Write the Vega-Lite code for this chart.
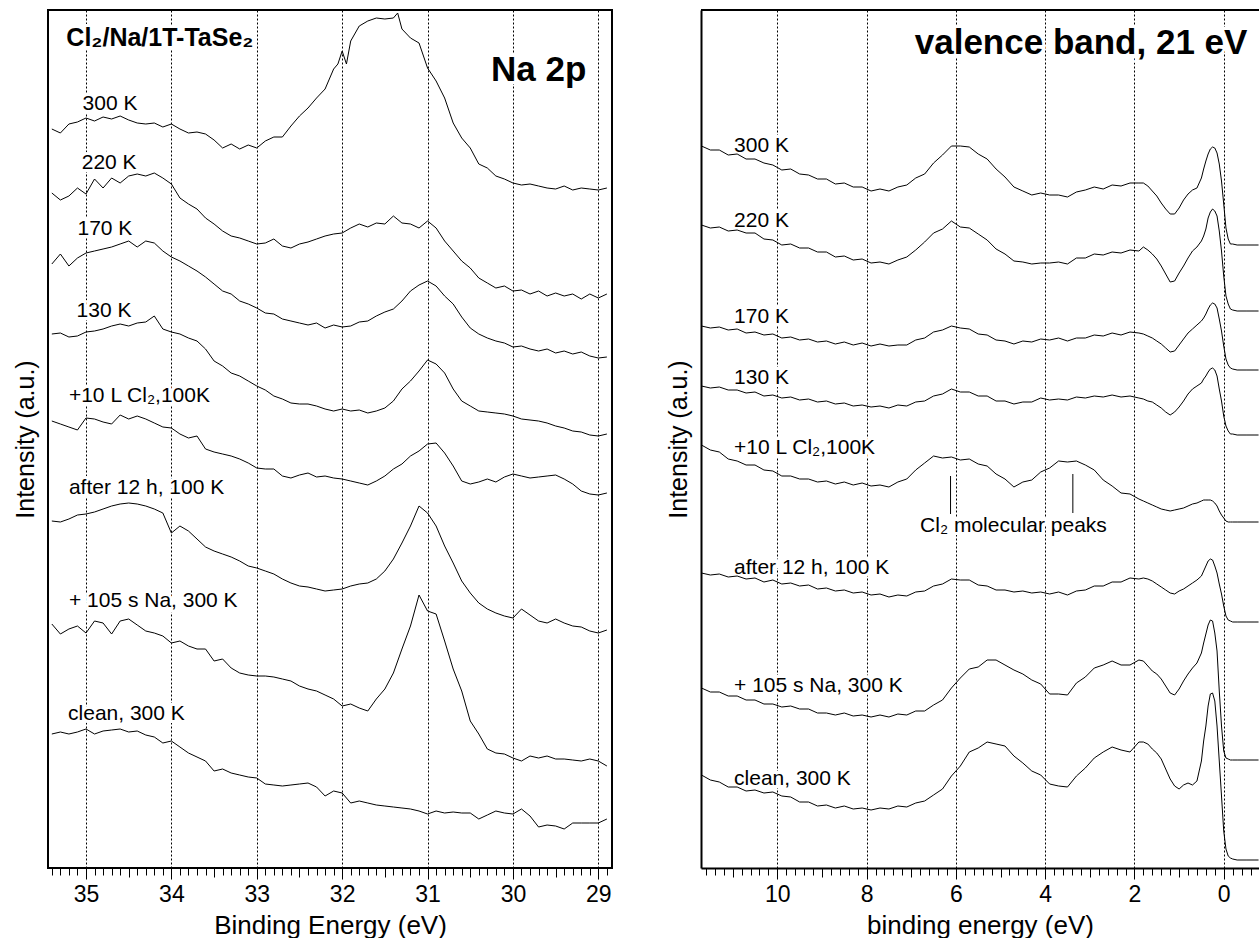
{
"$schema":"https://vega.github.io/schema/vega-lite/v6.json",
"background":"white",
"padding":{"left":12,"top":9,"right":0,"bottom":0},
"spacing":53,
"config":{"font":"Liberation Sans","view":{"stroke":"black","strokeWidth":2},
"axis":{"labelFont":"Liberation Sans","titleFont":"Liberation Sans","labelColor":"black","titleColor":"black","titleFontWeight":"normal","tickColor":"black","domainColor":"black"}},
"datasets":{
"naLab":[{"e":35.04,"i":764,"t":"300 K"},{"e":35.05,"i":705,"t":"220 K"},{"e":35.1,"i":639,"t":"170 K"},{"e":35.11,"i":557,"t":"130 K"},{"e":35.2,"i":472,"t":"+10 L Cl₂,100K"},{"e":35.2,"i":380,"t":"after 12 h, 100 K"},{"e":35.2,"i":267,"t":"+ 105 s Na, 300 K"},{"e":35.21,"i":154,"t":"clean, 300 K"}],
"vbLab":[{"e":10.97,"i":722,"t":"300 K"},{"e":10.97,"i":647,"t":"220 K"},{"e":10.97,"i":551,"t":"170 K"},{"e":10.97,"i":490,"t":"130 K"},{"e":10.97,"i":420,"t":"+10 L Cl₂,100K"},{"e":10.97,"i":300,"t":"after 12 h, 100 K"},{"e":10.97,"i":182,"t":"+ 105 s Na, 300 K"},{"e":10.97,"i":89,"t":"clean, 300 K"}],
"na":[
{"s":1,"e":35.4,"i":739},{"s":1,"e":35.3,"i":735},{"s":1,"e":35.2,"i":744},{"s":1,"e":35.1,"i":746},{"s":1,"e":35,"i":750},{"s":1,"e":34.9,"i":747},{"s":1,"e":34.8,"i":751},{"s":1,"e":34.7,"i":749},{"s":1,"e":34.6,"i":752},{"s":1,"e":34.5,"i":748},{"s":1,"e":34.4,"i":745},{"s":1,"e":34.3,"i":744},{"s":1,"e":34.2,"i":745},{"s":1,"e":34.1,"i":741},{"s":1,"e":34,"i":744},{"s":1,"e":33.9,"i":739},{"s":1,"e":33.8,"i":735},{"s":1,"e":33.7,"i":736},{"s":1,"e":33.6,"i":734},{"s":1,"e":33.5,"i":728},{"s":1,"e":33.4,"i":720},{"s":1,"e":33.3,"i":724},{"s":1,"e":33.2,"i":719},{"s":1,"e":33.1,"i":723},{"s":1,"e":33,"i":720},{"s":1,"e":32.9,"i":727},{"s":1,"e":32.8,"i":731},{"s":1,"e":32.7,"i":731},{"s":1,"e":32.6,"i":742},{"s":1,"e":32.5,"i":752},{"s":1,"e":32.4,"i":760},{"s":1,"e":32.3,"i":770},{"s":1,"e":32.2,"i":779},{"s":1,"e":32.1,"i":799},{"s":1,"e":32.05,"i":804},{"s":1,"e":32,"i":817},{"s":1,"e":31.95,"i":804},{"s":1,"e":31.9,"i":827},{"s":1,"e":31.8,"i":842},{"s":1,"e":31.7,"i":847},{"s":1,"e":31.6,"i":850},{"s":1,"e":31.5,"i":849},{"s":1,"e":31.4,"i":850},{"s":1,"e":31.35,"i":855},{"s":1,"e":31.3,"i":839},{"s":1,"e":31.2,"i":830},{"s":1,"e":31.1,"i":825},{"s":1,"e":31,"i":800},{"s":1,"e":30.9,"i":787},{"s":1,"e":30.8,"i":770},{"s":1,"e":30.7,"i":745},{"s":1,"e":30.6,"i":730},{"s":1,"e":30.5,"i":720},{"s":1,"e":30.4,"i":704},{"s":1,"e":30.3,"i":700},{"s":1,"e":30.2,"i":692},{"s":1,"e":30.1,"i":689},{"s":1,"e":30,"i":685},{"s":1,"e":29.9,"i":683},{"s":1,"e":29.8,"i":684},{"s":1,"e":29.7,"i":682},{"s":1,"e":29.6,"i":680},{"s":1,"e":29.5,"i":679},{"s":1,"e":29.4,"i":682},{"s":1,"e":29.3,"i":678},{"s":1,"e":29.2,"i":680},{"s":1,"e":29.1,"i":679},{"s":1,"e":29,"i":678},{"s":1,"e":28.9,"i":680},
{"s":2,"e":35.4,"i":675},{"s":2,"e":35.3,"i":668},{"s":2,"e":35.2,"i":672},{"s":2,"e":35.1,"i":680},{"s":2,"e":35,"i":674},{"s":2,"e":34.9,"i":689},{"s":2,"e":34.8,"i":680},{"s":2,"e":34.7,"i":690},{"s":2,"e":34.6,"i":685},{"s":2,"e":34.5,"i":692},{"s":2,"e":34.4,"i":694},{"s":2,"e":34.3,"i":692},{"s":2,"e":34.2,"i":695},{"s":2,"e":34.1,"i":690},{"s":2,"e":34,"i":684},{"s":2,"e":33.9,"i":670},{"s":2,"e":33.8,"i":664},{"s":2,"e":33.7,"i":659},{"s":2,"e":33.6,"i":650},{"s":2,"e":33.5,"i":644},{"s":2,"e":33.4,"i":637},{"s":2,"e":33.3,"i":632},{"s":2,"e":33.2,"i":630},{"s":2,"e":33.1,"i":627},{"s":2,"e":33,"i":624},{"s":2,"e":32.9,"i":625},{"s":2,"e":32.8,"i":629},{"s":2,"e":32.7,"i":622},{"s":2,"e":32.6,"i":620},{"s":2,"e":32.5,"i":624},{"s":2,"e":32.4,"i":626},{"s":2,"e":32.3,"i":629},{"s":2,"e":32.2,"i":632},{"s":2,"e":32.1,"i":634},{"s":2,"e":32,"i":635},{"s":2,"e":31.9,"i":640},{"s":2,"e":31.8,"i":644},{"s":2,"e":31.7,"i":641},{"s":2,"e":31.6,"i":645},{"s":2,"e":31.5,"i":644},{"s":2,"e":31.4,"i":652},{"s":2,"e":31.3,"i":645},{"s":2,"e":31.2,"i":644},{"s":2,"e":31.1,"i":640},{"s":2,"e":31,"i":647},{"s":2,"e":30.9,"i":640},{"s":2,"e":30.8,"i":627},{"s":2,"e":30.7,"i":617},{"s":2,"e":30.6,"i":607},{"s":2,"e":30.5,"i":600},{"s":2,"e":30.4,"i":590},{"s":2,"e":30.3,"i":585},{"s":2,"e":30.2,"i":580},{"s":2,"e":30.1,"i":582},{"s":2,"e":30,"i":577},{"s":2,"e":29.9,"i":578},{"s":2,"e":29.8,"i":574},{"s":2,"e":29.7,"i":577},{"s":2,"e":29.6,"i":572},{"s":2,"e":29.5,"i":575},{"s":2,"e":29.4,"i":572},{"s":2,"e":29.3,"i":574},{"s":2,"e":29.2,"i":569},{"s":2,"e":29.1,"i":574},{"s":2,"e":29,"i":570},{"s":2,"e":28.9,"i":574},
{"s":3,"e":35.4,"i":604},{"s":3,"e":35.3,"i":614},{"s":3,"e":35.2,"i":602},{"s":3,"e":35.1,"i":610},{"s":3,"e":35,"i":615},{"s":3,"e":34.9,"i":617},{"s":3,"e":34.8,"i":619},{"s":3,"e":34.7,"i":621},{"s":3,"e":34.6,"i":624},{"s":3,"e":34.5,"i":627},{"s":3,"e":34.4,"i":621},{"s":3,"e":34.3,"i":627},{"s":3,"e":34.2,"i":625},{"s":3,"e":34.1,"i":617},{"s":3,"e":34,"i":611},{"s":3,"e":33.9,"i":607},{"s":3,"e":33.8,"i":602},{"s":3,"e":33.7,"i":597},{"s":3,"e":33.6,"i":591},{"s":3,"e":33.5,"i":584},{"s":3,"e":33.4,"i":577},{"s":3,"e":33.3,"i":574},{"s":3,"e":33.2,"i":567},{"s":3,"e":33.1,"i":564},{"s":3,"e":33,"i":560},{"s":3,"e":32.9,"i":555},{"s":3,"e":32.8,"i":554},{"s":3,"e":32.7,"i":549},{"s":3,"e":32.6,"i":547},{"s":3,"e":32.5,"i":545},{"s":3,"e":32.4,"i":543},{"s":3,"e":32.3,"i":545},{"s":3,"e":32.2,"i":540},{"s":3,"e":32.1,"i":543},{"s":3,"e":32,"i":541},{"s":3,"e":31.9,"i":542},{"s":3,"e":31.8,"i":546},{"s":3,"e":31.7,"i":547},{"s":3,"e":31.6,"i":552},{"s":3,"e":31.5,"i":556},{"s":3,"e":31.4,"i":559},{"s":3,"e":31.3,"i":567},{"s":3,"e":31.2,"i":577},{"s":3,"e":31.1,"i":583},{"s":3,"e":31,"i":587},{"s":3,"e":30.9,"i":582},{"s":3,"e":30.8,"i":572},{"s":3,"e":30.7,"i":564},{"s":3,"e":30.6,"i":551},{"s":3,"e":30.5,"i":540},{"s":3,"e":30.4,"i":534},{"s":3,"e":30.3,"i":530},{"s":3,"e":30.2,"i":527},{"s":3,"e":30.1,"i":525},{"s":3,"e":30,"i":521},{"s":3,"e":29.9,"i":522},{"s":3,"e":29.8,"i":519},{"s":3,"e":29.7,"i":517},{"s":3,"e":29.6,"i":519},{"s":3,"e":29.5,"i":515},{"s":3,"e":29.4,"i":517},{"s":3,"e":29.3,"i":514},{"s":3,"e":29.2,"i":516},{"s":3,"e":29.1,"i":512},{"s":3,"e":29,"i":510},{"s":3,"e":28.9,"i":511},
{"s":4,"e":35.4,"i":534},{"s":4,"e":35.3,"i":535},{"s":4,"e":35.2,"i":531},{"s":4,"e":35.1,"i":532},{"s":4,"e":35,"i":536},{"s":4,"e":34.9,"i":537},{"s":4,"e":34.8,"i":539},{"s":4,"e":34.7,"i":542},{"s":4,"e":34.6,"i":544},{"s":4,"e":34.5,"i":542},{"s":4,"e":34.4,"i":545},{"s":4,"e":34.3,"i":546},{"s":4,"e":34.2,"i":552},{"s":4,"e":34.1,"i":539},{"s":4,"e":34,"i":536},{"s":4,"e":33.9,"i":534},{"s":4,"e":33.8,"i":530},{"s":4,"e":33.7,"i":527},{"s":4,"e":33.6,"i":519},{"s":4,"e":33.5,"i":507},{"s":4,"e":33.4,"i":502},{"s":4,"e":33.3,"i":495},{"s":4,"e":33.2,"i":492},{"s":4,"e":33.1,"i":487},{"s":4,"e":33,"i":482},{"s":4,"e":32.9,"i":478},{"s":4,"e":32.8,"i":472},{"s":4,"e":32.7,"i":469},{"s":4,"e":32.6,"i":465},{"s":4,"e":32.5,"i":464},{"s":4,"e":32.4,"i":464},{"s":4,"e":32.3,"i":462},{"s":4,"e":32.2,"i":459},{"s":4,"e":32.1,"i":457},{"s":4,"e":32,"i":459},{"s":4,"e":31.9,"i":457},{"s":4,"e":31.8,"i":458},{"s":4,"e":31.7,"i":455},{"s":4,"e":31.6,"i":457},{"s":4,"e":31.5,"i":460},{"s":4,"e":31.4,"i":467},{"s":4,"e":31.3,"i":479},{"s":4,"e":31.2,"i":487},{"s":4,"e":31.1,"i":497},{"s":4,"e":31,"i":508},{"s":4,"e":30.9,"i":504},{"s":4,"e":30.8,"i":495},{"s":4,"e":30.7,"i":479},{"s":4,"e":30.6,"i":467},{"s":4,"e":30.5,"i":462},{"s":4,"e":30.4,"i":457},{"s":4,"e":30.3,"i":456},{"s":4,"e":30.2,"i":455},{"s":4,"e":30.1,"i":454},{"s":4,"e":30,"i":452},{"s":4,"e":29.9,"i":449},{"s":4,"e":29.8,"i":448},{"s":4,"e":29.7,"i":447},{"s":4,"e":29.6,"i":445},{"s":4,"e":29.5,"i":442},{"s":4,"e":29.4,"i":440},{"s":4,"e":29.3,"i":437},{"s":4,"e":29.2,"i":436},{"s":4,"e":29.1,"i":433},{"s":4,"e":29,"i":432},{"s":4,"e":28.9,"i":434},
{"s":5,"e":35.4,"i":447},{"s":5,"e":35.3,"i":444},{"s":5,"e":35.2,"i":441},{"s":5,"e":35.1,"i":438},{"s":5,"e":35,"i":450},{"s":5,"e":34.9,"i":449},{"s":5,"e":34.8,"i":446},{"s":5,"e":34.7,"i":444},{"s":5,"e":34.6,"i":453},{"s":5,"e":34.5,"i":449},{"s":5,"e":34.4,"i":452},{"s":5,"e":34.3,"i":449},{"s":5,"e":34.2,"i":445},{"s":5,"e":34.1,"i":441},{"s":5,"e":34,"i":440},{"s":5,"e":33.9,"i":434},{"s":5,"e":33.8,"i":430},{"s":5,"e":33.7,"i":432},{"s":5,"e":33.6,"i":419},{"s":5,"e":33.5,"i":416},{"s":5,"e":33.4,"i":414},{"s":5,"e":33.3,"i":412},{"s":5,"e":33.2,"i":409},{"s":5,"e":33.1,"i":405},{"s":5,"e":33,"i":400},{"s":5,"e":32.9,"i":399},{"s":5,"e":32.8,"i":399},{"s":5,"e":32.7,"i":392},{"s":5,"e":32.6,"i":390},{"s":5,"e":32.5,"i":393},{"s":5,"e":32.4,"i":395},{"s":5,"e":32.3,"i":391},{"s":5,"e":32.2,"i":392},{"s":5,"e":32.1,"i":390},{"s":5,"e":32,"i":389},{"s":5,"e":31.9,"i":387},{"s":5,"e":31.8,"i":385},{"s":5,"e":31.7,"i":383},{"s":5,"e":31.6,"i":387},{"s":5,"e":31.5,"i":392},{"s":5,"e":31.4,"i":399},{"s":5,"e":31.3,"i":404},{"s":5,"e":31.2,"i":412},{"s":5,"e":31.1,"i":417},{"s":5,"e":31,"i":424},{"s":5,"e":30.9,"i":425},{"s":5,"e":30.8,"i":415},{"s":5,"e":30.7,"i":402},{"s":5,"e":30.6,"i":387},{"s":5,"e":30.5,"i":384},{"s":5,"e":30.4,"i":386},{"s":5,"e":30.3,"i":389},{"s":5,"e":30.2,"i":386},{"s":5,"e":30.1,"i":391},{"s":5,"e":30,"i":394},{"s":5,"e":29.9,"i":392},{"s":5,"e":29.8,"i":390},{"s":5,"e":29.7,"i":391},{"s":5,"e":29.6,"i":392},{"s":5,"e":29.5,"i":393},{"s":5,"e":29.4,"i":389},{"s":5,"e":29.3,"i":384},{"s":5,"e":29.2,"i":377},{"s":5,"e":29.1,"i":374},{"s":5,"e":29,"i":373},{"s":5,"e":28.9,"i":375},
{"s":6,"e":35.4,"i":347},{"s":6,"e":35.3,"i":346},{"s":6,"e":35.2,"i":349},{"s":6,"e":35.1,"i":353},{"s":6,"e":35,"i":354},{"s":6,"e":34.9,"i":356},{"s":6,"e":34.8,"i":359},{"s":6,"e":34.7,"i":362},{"s":6,"e":34.6,"i":364},{"s":6,"e":34.5,"i":365},{"s":6,"e":34.4,"i":364},{"s":6,"e":34.3,"i":362},{"s":6,"e":34.2,"i":359},{"s":6,"e":34.1,"i":355},{"s":6,"e":34,"i":335},{"s":6,"e":33.9,"i":342},{"s":6,"e":33.8,"i":337},{"s":6,"e":33.7,"i":329},{"s":6,"e":33.6,"i":321},{"s":6,"e":33.5,"i":317},{"s":6,"e":33.4,"i":314},{"s":6,"e":33.3,"i":311},{"s":6,"e":33.2,"i":307},{"s":6,"e":33.1,"i":302},{"s":6,"e":33,"i":300},{"s":6,"e":32.9,"i":297},{"s":6,"e":32.8,"i":294},{"s":6,"e":32.7,"i":289},{"s":6,"e":32.6,"i":285},{"s":6,"e":32.5,"i":282},{"s":6,"e":32.4,"i":281},{"s":6,"e":32.3,"i":279},{"s":6,"e":32.2,"i":277},{"s":6,"e":32.1,"i":278},{"s":6,"e":32,"i":279},{"s":6,"e":31.9,"i":282},{"s":6,"e":31.8,"i":284},{"s":6,"e":31.7,"i":285},{"s":6,"e":31.6,"i":289},{"s":6,"e":31.5,"i":297},{"s":6,"e":31.4,"i":309},{"s":6,"e":31.3,"i":325},{"s":6,"e":31.2,"i":342},{"s":6,"e":31.1,"i":362},{"s":6,"e":31,"i":355},{"s":6,"e":30.9,"i":342},{"s":6,"e":30.8,"i":322},{"s":6,"e":30.7,"i":305},{"s":6,"e":30.6,"i":287},{"s":6,"e":30.5,"i":275},{"s":6,"e":30.4,"i":265},{"s":6,"e":30.3,"i":259},{"s":6,"e":30.2,"i":255},{"s":6,"e":30.1,"i":252},{"s":6,"e":30,"i":250},{"s":6,"e":29.9,"i":259},{"s":6,"e":29.8,"i":253},{"s":6,"e":29.7,"i":247},{"s":6,"e":29.6,"i":245},{"s":6,"e":29.5,"i":249},{"s":6,"e":29.4,"i":245},{"s":6,"e":29.3,"i":242},{"s":6,"e":29.2,"i":241},{"s":6,"e":29.1,"i":237},{"s":6,"e":29,"i":235},{"s":6,"e":28.9,"i":238},
{"s":7,"e":35.4,"i":244},{"s":7,"e":35.3,"i":234},{"s":7,"e":35.2,"i":239},{"s":7,"e":35.1,"i":242},{"s":7,"e":35,"i":235},{"s":7,"e":34.9,"i":247},{"s":7,"e":34.8,"i":245},{"s":7,"e":34.7,"i":234},{"s":7,"e":34.6,"i":247},{"s":7,"e":34.5,"i":249},{"s":7,"e":34.4,"i":243},{"s":7,"e":34.3,"i":237},{"s":7,"e":34.2,"i":235},{"s":7,"e":34.1,"i":232},{"s":7,"e":34,"i":225},{"s":7,"e":33.9,"i":227},{"s":7,"e":33.8,"i":222},{"s":7,"e":33.7,"i":219},{"s":7,"e":33.6,"i":219},{"s":7,"e":33.5,"i":207},{"s":7,"e":33.4,"i":209},{"s":7,"e":33.3,"i":200},{"s":7,"e":33.2,"i":195},{"s":7,"e":33.1,"i":193},{"s":7,"e":33,"i":192},{"s":7,"e":32.9,"i":192},{"s":7,"e":32.8,"i":191},{"s":7,"e":32.7,"i":189},{"s":7,"e":32.6,"i":187},{"s":7,"e":32.5,"i":182},{"s":7,"e":32.4,"i":179},{"s":7,"e":32.3,"i":177},{"s":7,"e":32.2,"i":173},{"s":7,"e":32.1,"i":169},{"s":7,"e":32,"i":162},{"s":7,"e":31.9,"i":164},{"s":7,"e":31.8,"i":160},{"s":7,"e":31.7,"i":157},{"s":7,"e":31.6,"i":169},{"s":7,"e":31.5,"i":179},{"s":7,"e":31.4,"i":195},{"s":7,"e":31.3,"i":219},{"s":7,"e":31.2,"i":242},{"s":7,"e":31.1,"i":273},{"s":7,"e":31,"i":257},{"s":7,"e":30.9,"i":254},{"s":7,"e":30.8,"i":227},{"s":7,"e":30.7,"i":199},{"s":7,"e":30.6,"i":177},{"s":7,"e":30.5,"i":147},{"s":7,"e":30.4,"i":134},{"s":7,"e":30.3,"i":119},{"s":7,"e":30.2,"i":115},{"s":7,"e":30.1,"i":114},{"s":7,"e":30,"i":110},{"s":7,"e":29.9,"i":107},{"s":7,"e":29.8,"i":112},{"s":7,"e":29.7,"i":110},{"s":7,"e":29.6,"i":112},{"s":7,"e":29.5,"i":109},{"s":7,"e":29.4,"i":109},{"s":7,"e":29.3,"i":108},{"s":7,"e":29.2,"i":107},{"s":7,"e":29.1,"i":109},{"s":7,"e":29,"i":107},{"s":7,"e":28.9,"i":102},
{"s":8,"e":35.4,"i":134},{"s":8,"e":35.3,"i":136},{"s":8,"e":35.2,"i":134},{"s":8,"e":35.1,"i":136},{"s":8,"e":35,"i":139},{"s":8,"e":34.9,"i":134},{"s":8,"e":34.8,"i":137},{"s":8,"e":34.7,"i":138},{"s":8,"e":34.6,"i":139},{"s":8,"e":34.5,"i":136},{"s":8,"e":34.4,"i":137},{"s":8,"e":34.3,"i":133},{"s":8,"e":34.2,"i":131},{"s":8,"e":34.1,"i":125},{"s":8,"e":34,"i":127},{"s":8,"e":33.9,"i":121},{"s":8,"e":33.8,"i":115},{"s":8,"e":33.7,"i":111},{"s":8,"e":33.6,"i":107},{"s":8,"e":33.5,"i":97},{"s":8,"e":33.4,"i":99},{"s":8,"e":33.3,"i":95},{"s":8,"e":33.2,"i":93},{"s":8,"e":33.1,"i":91},{"s":8,"e":33,"i":90},{"s":8,"e":32.9,"i":84},{"s":8,"e":32.8,"i":83},{"s":8,"e":32.7,"i":82},{"s":8,"e":32.6,"i":83},{"s":8,"e":32.5,"i":84},{"s":8,"e":32.4,"i":85},{"s":8,"e":32.3,"i":81},{"s":8,"e":32.2,"i":72},{"s":8,"e":32.1,"i":77},{"s":8,"e":32,"i":75},{"s":8,"e":31.9,"i":65},{"s":8,"e":31.8,"i":67},{"s":8,"e":31.7,"i":65},{"s":8,"e":31.6,"i":63},{"s":8,"e":31.5,"i":62},{"s":8,"e":31.4,"i":61},{"s":8,"e":31.3,"i":60},{"s":8,"e":31.2,"i":59},{"s":8,"e":31.1,"i":57},{"s":8,"e":31,"i":54},{"s":8,"e":30.9,"i":57},{"s":8,"e":30.8,"i":55},{"s":8,"e":30.7,"i":56},{"s":8,"e":30.6,"i":55},{"s":8,"e":30.5,"i":55},{"s":8,"e":30.4,"i":49},{"s":8,"e":30.3,"i":53},{"s":8,"e":30.2,"i":57},{"s":8,"e":30.1,"i":55},{"s":8,"e":30,"i":54},{"s":8,"e":29.9,"i":59},{"s":8,"e":29.8,"i":52},{"s":8,"e":29.7,"i":41},{"s":8,"e":29.6,"i":43},{"s":8,"e":29.5,"i":42},{"s":8,"e":29.4,"i":39},{"s":8,"e":29.3,"i":45},{"s":8,"e":29.2,"i":45},{"s":8,"e":29.1,"i":45},{"s":8,"e":29,"i":45},{"s":8,"e":28.9,"i":49}
],
"vb":[
{"s":1,"e":11.7,"i":722},{"s":1,"e":11.5,"i":718},{"s":1,"e":11.3,"i":718},{"s":1,"e":11.1,"i":713},{"s":1,"e":10.9,"i":714},{"s":1,"e":10.7,"i":709},{"s":1,"e":10.5,"i":709},{"s":1,"e":10.3,"i":705},{"s":1,"e":10.1,"i":703},{"s":1,"e":9.9,"i":698},{"s":1,"e":9.7,"i":699},{"s":1,"e":9.5,"i":694},{"s":1,"e":9.3,"i":693},{"s":1,"e":9.1,"i":689},{"s":1,"e":8.9,"i":689},{"s":1,"e":8.7,"i":684},{"s":1,"e":8.5,"i":685},{"s":1,"e":8.3,"i":681},{"s":1,"e":8.1,"i":681},{"s":1,"e":7.9,"i":677},{"s":1,"e":7.7,"i":679},{"s":1,"e":7.5,"i":677},{"s":1,"e":7.3,"i":681},{"s":1,"e":7.1,"i":683},{"s":1,"e":6.9,"i":690},{"s":1,"e":6.7,"i":694},{"s":1,"e":6.5,"i":705},{"s":1,"e":6.3,"i":713},{"s":1,"e":6.1,"i":722},{"s":1,"e":5.9,"i":722},{"s":1,"e":5.7,"i":721},{"s":1,"e":5.5,"i":714},{"s":1,"e":5.3,"i":709},{"s":1,"e":5.1,"i":699},{"s":1,"e":4.9,"i":691},{"s":1,"e":4.7,"i":681},{"s":1,"e":4.5,"i":677},{"s":1,"e":4.3,"i":673},{"s":1,"e":4.1,"i":675},{"s":1,"e":3.9,"i":673},{"s":1,"e":3.7,"i":673},{"s":1,"e":3.5,"i":671},{"s":1,"e":3.3,"i":676},{"s":1,"e":3.1,"i":678},{"s":1,"e":2.9,"i":681},{"s":1,"e":2.7,"i":679},{"s":1,"e":2.5,"i":683},{"s":1,"e":2.3,"i":682},{"s":1,"e":2.1,"i":685},{"s":1,"e":1.9,"i":685},{"s":1,"e":1.8,"i":685},{"s":1,"e":1.7,"i":682},{"s":1,"e":1.6,"i":677},{"s":1,"e":1.5,"i":672},{"s":1,"e":1.4,"i":665},{"s":1,"e":1.3,"i":659},{"s":1,"e":1.2,"i":654},{"s":1,"e":1.1,"i":654},{"s":1,"e":1,"i":660},{"s":1,"e":0.9,"i":668},{"s":1,"e":0.8,"i":674},{"s":1,"e":0.7,"i":678},{"s":1,"e":0.6,"i":680},{"s":1,"e":0.5,"i":690},{"s":1,"e":0.45,"i":699},{"s":1,"e":0.4,"i":707},{"s":1,"e":0.35,"i":714},{"s":1,"e":0.3,"i":719},{"s":1,"e":0.25,"i":721},{"s":1,"e":0.2,"i":720},{"s":1,"e":0.15,"i":715},{"s":1,"e":0.1,"i":704},{"s":1,"e":0.05,"i":687},{"s":1,"e":0,"i":664},{"s":1,"e":-0.05,"i":640},{"s":1,"e":-0.1,"i":629},{"s":1,"e":-0.15,"i":624},{"s":1,"e":-0.2,"i":624},{"s":1,"e":-0.3,"i":623},{"s":1,"e":-0.5,"i":623},{"s":1,"e":-0.7,"i":623},{"s":1,"e":-0.78,"i":623},
{"s":2,"e":11.7,"i":643},{"s":2,"e":11.5,"i":640},{"s":2,"e":11.3,"i":641},{"s":2,"e":11.1,"i":637},{"s":2,"e":10.9,"i":638},{"s":2,"e":10.7,"i":635},{"s":2,"e":10.5,"i":635},{"s":2,"e":10.3,"i":629},{"s":2,"e":10.1,"i":628},{"s":2,"e":9.9,"i":623},{"s":2,"e":9.7,"i":624},{"s":2,"e":9.5,"i":620},{"s":2,"e":9.3,"i":620},{"s":2,"e":9.1,"i":616},{"s":2,"e":8.9,"i":616},{"s":2,"e":8.7,"i":611},{"s":2,"e":8.5,"i":612},{"s":2,"e":8.3,"i":608},{"s":2,"e":8.1,"i":609},{"s":2,"e":7.9,"i":605},{"s":2,"e":7.7,"i":606},{"s":2,"e":7.5,"i":604},{"s":2,"e":7.3,"i":608},{"s":2,"e":7.1,"i":611},{"s":2,"e":6.9,"i":618},{"s":2,"e":6.7,"i":626},{"s":2,"e":6.5,"i":635},{"s":2,"e":6.3,"i":639},{"s":2,"e":6.1,"i":647},{"s":2,"e":5.9,"i":641},{"s":2,"e":5.7,"i":640},{"s":2,"e":5.5,"i":634},{"s":2,"e":5.3,"i":628},{"s":2,"e":5.1,"i":619},{"s":2,"e":4.9,"i":614},{"s":2,"e":4.7,"i":607},{"s":2,"e":4.5,"i":606},{"s":2,"e":4.3,"i":604},{"s":2,"e":4.1,"i":605},{"s":2,"e":3.9,"i":605},{"s":2,"e":3.7,"i":606},{"s":2,"e":3.5,"i":604},{"s":2,"e":3.3,"i":610},{"s":2,"e":3.1,"i":610},{"s":2,"e":2.9,"i":614},{"s":2,"e":2.7,"i":613},{"s":2,"e":2.5,"i":616},{"s":2,"e":2.3,"i":615},{"s":2,"e":2.1,"i":618},{"s":2,"e":1.9,"i":617},{"s":2,"e":1.8,"i":621},{"s":2,"e":1.7,"i":618},{"s":2,"e":1.6,"i":614},{"s":2,"e":1.5,"i":609},{"s":2,"e":1.4,"i":602},{"s":2,"e":1.3,"i":594},{"s":2,"e":1.2,"i":586},{"s":2,"e":1.1,"i":587},{"s":2,"e":1,"i":595},{"s":2,"e":0.9,"i":602},{"s":2,"e":0.8,"i":610},{"s":2,"e":0.7,"i":617},{"s":2,"e":0.6,"i":621},{"s":2,"e":0.5,"i":627},{"s":2,"e":0.45,"i":632},{"s":2,"e":0.4,"i":639},{"s":2,"e":0.35,"i":650},{"s":2,"e":0.3,"i":656},{"s":2,"e":0.25,"i":659},{"s":2,"e":0.2,"i":657},{"s":2,"e":0.15,"i":652},{"s":2,"e":0.1,"i":637},{"s":2,"e":0.05,"i":617},{"s":2,"e":0,"i":592},{"s":2,"e":-0.05,"i":572},{"s":2,"e":-0.1,"i":564},{"s":2,"e":-0.15,"i":559},{"s":2,"e":-0.2,"i":558},{"s":2,"e":-0.3,"i":557},{"s":2,"e":-0.5,"i":557},{"s":2,"e":-0.7,"i":557},{"s":2,"e":-0.78,"i":557},
{"s":3,"e":11.7,"i":542},{"s":3,"e":11.5,"i":540},{"s":3,"e":11.3,"i":541},{"s":3,"e":11.1,"i":538},{"s":3,"e":10.9,"i":539},{"s":3,"e":10.7,"i":535},{"s":3,"e":10.5,"i":536},{"s":3,"e":10.3,"i":533},{"s":3,"e":10.1,"i":534},{"s":3,"e":9.9,"i":530},{"s":3,"e":9.7,"i":531},{"s":3,"e":9.5,"i":528},{"s":3,"e":9.3,"i":529},{"s":3,"e":9.1,"i":526},{"s":3,"e":8.9,"i":527},{"s":3,"e":8.7,"i":524},{"s":3,"e":8.5,"i":526},{"s":3,"e":8.3,"i":523},{"s":3,"e":8.1,"i":525},{"s":3,"e":7.9,"i":522},{"s":3,"e":7.7,"i":524},{"s":3,"e":7.5,"i":522},{"s":3,"e":7.3,"i":523},{"s":3,"e":7.1,"i":523},{"s":3,"e":6.9,"i":528},{"s":3,"e":6.7,"i":530},{"s":3,"e":6.5,"i":536},{"s":3,"e":6.3,"i":538},{"s":3,"e":6.1,"i":542},{"s":3,"e":5.9,"i":540},{"s":3,"e":5.7,"i":539},{"s":3,"e":5.5,"i":534},{"s":3,"e":5.3,"i":533},{"s":3,"e":5.1,"i":528},{"s":3,"e":4.9,"i":527},{"s":3,"e":4.7,"i":524},{"s":3,"e":4.5,"i":527},{"s":3,"e":4.3,"i":526},{"s":3,"e":4.1,"i":529},{"s":3,"e":3.9,"i":528},{"s":3,"e":3.7,"i":530},{"s":3,"e":3.5,"i":527},{"s":3,"e":3.3,"i":530},{"s":3,"e":3.1,"i":530},{"s":3,"e":2.9,"i":533},{"s":3,"e":2.7,"i":532},{"s":3,"e":2.5,"i":535},{"s":3,"e":2.3,"i":533},{"s":3,"e":2.1,"i":536},{"s":3,"e":1.9,"i":535},{"s":3,"e":1.8,"i":534},{"s":3,"e":1.7,"i":532},{"s":3,"e":1.6,"i":530},{"s":3,"e":1.5,"i":527},{"s":3,"e":1.4,"i":524},{"s":3,"e":1.3,"i":520},{"s":3,"e":1.2,"i":516},{"s":3,"e":1.1,"i":517},{"s":3,"e":1,"i":523},{"s":3,"e":0.9,"i":529},{"s":3,"e":0.8,"i":535},{"s":3,"e":0.7,"i":539},{"s":3,"e":0.6,"i":543},{"s":3,"e":0.5,"i":547},{"s":3,"e":0.45,"i":550},{"s":3,"e":0.4,"i":554},{"s":3,"e":0.35,"i":559},{"s":3,"e":0.3,"i":563},{"s":3,"e":0.25,"i":565},{"s":3,"e":0.2,"i":564},{"s":3,"e":0.15,"i":560},{"s":3,"e":0.1,"i":549},{"s":3,"e":0.05,"i":537},{"s":3,"e":0,"i":522},{"s":3,"e":-0.05,"i":509},{"s":3,"e":-0.1,"i":503},{"s":3,"e":-0.15,"i":500},{"s":3,"e":-0.2,"i":499},{"s":3,"e":-0.3,"i":498},{"s":3,"e":-0.5,"i":498},{"s":3,"e":-0.7,"i":498},{"s":3,"e":-0.78,"i":498},
{"s":4,"e":11.7,"i":482},{"s":4,"e":11.5,"i":480},{"s":4,"e":11.3,"i":481},{"s":4,"e":11.1,"i":478},{"s":4,"e":10.9,"i":478},{"s":4,"e":10.7,"i":475},{"s":4,"e":10.5,"i":476},{"s":4,"e":10.3,"i":472},{"s":4,"e":10.1,"i":473},{"s":4,"e":9.9,"i":470},{"s":4,"e":9.7,"i":471},{"s":4,"e":9.5,"i":468},{"s":4,"e":9.3,"i":469},{"s":4,"e":9.1,"i":466},{"s":4,"e":8.9,"i":467},{"s":4,"e":8.7,"i":464},{"s":4,"e":8.5,"i":465},{"s":4,"e":8.3,"i":462},{"s":4,"e":8.1,"i":463},{"s":4,"e":7.9,"i":461},{"s":4,"e":7.7,"i":462},{"s":4,"e":7.5,"i":460},{"s":4,"e":7.3,"i":463},{"s":4,"e":7.1,"i":462},{"s":4,"e":6.9,"i":466},{"s":4,"e":6.7,"i":467},{"s":4,"e":6.5,"i":472},{"s":4,"e":6.3,"i":474},{"s":4,"e":6.1,"i":479},{"s":4,"e":5.9,"i":476},{"s":4,"e":5.7,"i":476},{"s":4,"e":5.5,"i":472},{"s":4,"e":5.3,"i":472},{"s":4,"e":5.1,"i":467},{"s":4,"e":4.9,"i":467},{"s":4,"e":4.7,"i":464},{"s":4,"e":4.5,"i":466},{"s":4,"e":4.3,"i":466},{"s":4,"e":4.1,"i":470},{"s":4,"e":3.9,"i":468},{"s":4,"e":3.7,"i":469},{"s":4,"e":3.5,"i":468},{"s":4,"e":3.3,"i":471},{"s":4,"e":3.1,"i":470},{"s":4,"e":2.9,"i":472},{"s":4,"e":2.7,"i":471},{"s":4,"e":2.5,"i":473},{"s":4,"e":2.3,"i":471},{"s":4,"e":2.1,"i":472},{"s":4,"e":1.9,"i":470},{"s":4,"e":1.8,"i":469},{"s":4,"e":1.7,"i":467},{"s":4,"e":1.6,"i":466},{"s":4,"e":1.5,"i":463},{"s":4,"e":1.4,"i":460},{"s":4,"e":1.3,"i":456},{"s":4,"e":1.2,"i":453},{"s":4,"e":1.1,"i":456},{"s":4,"e":1,"i":461},{"s":4,"e":0.9,"i":467},{"s":4,"e":0.8,"i":474},{"s":4,"e":0.7,"i":479},{"s":4,"e":0.6,"i":482},{"s":4,"e":0.5,"i":485},{"s":4,"e":0.45,"i":489},{"s":4,"e":0.4,"i":492},{"s":4,"e":0.35,"i":496},{"s":4,"e":0.3,"i":499},{"s":4,"e":0.25,"i":500},{"s":4,"e":0.2,"i":498},{"s":4,"e":0.15,"i":492},{"s":4,"e":0.1,"i":479},{"s":4,"e":0.05,"i":467},{"s":4,"e":0,"i":452},{"s":4,"e":-0.05,"i":442},{"s":4,"e":-0.1,"i":437},{"s":4,"e":-0.15,"i":434},{"s":4,"e":-0.2,"i":434},{"s":4,"e":-0.3,"i":433},{"s":4,"e":-0.5,"i":433},{"s":4,"e":-0.7,"i":433},{"s":4,"e":-0.78,"i":433},
{"s":5,"e":11.7,"i":423},{"s":5,"e":11.5,"i":418},{"s":5,"e":11.3,"i":416},{"s":5,"e":11.1,"i":409},{"s":5,"e":10.9,"i":407},{"s":5,"e":10.7,"i":403},{"s":5,"e":10.5,"i":403},{"s":5,"e":10.3,"i":398},{"s":5,"e":10.1,"i":397},{"s":5,"e":9.9,"i":392},{"s":5,"e":9.7,"i":392},{"s":5,"e":9.5,"i":389},{"s":5,"e":9.3,"i":389},{"s":5,"e":9.1,"i":386},{"s":5,"e":8.9,"i":387},{"s":5,"e":8.7,"i":384},{"s":5,"e":8.5,"i":386},{"s":5,"e":8.3,"i":383},{"s":5,"e":8.1,"i":385},{"s":5,"e":7.9,"i":382},{"s":5,"e":7.7,"i":383},{"s":5,"e":7.5,"i":381},{"s":5,"e":7.3,"i":386},{"s":5,"e":7.1,"i":389},{"s":5,"e":6.9,"i":398},{"s":5,"e":6.7,"i":405},{"s":5,"e":6.5,"i":412},{"s":5,"e":6.3,"i":410},{"s":5,"e":6.1,"i":411},{"s":5,"e":5.9,"i":408},{"s":5,"e":5.7,"i":409},{"s":5,"e":5.5,"i":404},{"s":5,"e":5.3,"i":402},{"s":5,"e":5.1,"i":394},{"s":5,"e":4.9,"i":389},{"s":5,"e":4.7,"i":381},{"s":5,"e":4.5,"i":386},{"s":5,"e":4.3,"i":388},{"s":5,"e":4.1,"i":396},{"s":5,"e":3.9,"i":400},{"s":5,"e":3.7,"i":407},{"s":5,"e":3.5,"i":406},{"s":5,"e":3.3,"i":407},{"s":5,"e":3.1,"i":403},{"s":5,"e":2.9,"i":398},{"s":5,"e":2.7,"i":388},{"s":5,"e":2.5,"i":382},{"s":5,"e":2.3,"i":375},{"s":5,"e":2.1,"i":374},{"s":5,"e":1.9,"i":369},{"s":5,"e":1.8,"i":367},{"s":5,"e":1.7,"i":365},{"s":5,"e":1.6,"i":363},{"s":5,"e":1.5,"i":361},{"s":5,"e":1.4,"i":359},{"s":5,"e":1.3,"i":358},{"s":5,"e":1.2,"i":357},{"s":5,"e":1.1,"i":358},{"s":5,"e":1,"i":359},{"s":5,"e":0.9,"i":360},{"s":5,"e":0.8,"i":362},{"s":5,"e":0.7,"i":364},{"s":5,"e":0.6,"i":365},{"s":5,"e":0.5,"i":367},{"s":5,"e":0.45,"i":368},{"s":5,"e":0.4,"i":368},{"s":5,"e":0.35,"i":368},{"s":5,"e":0.3,"i":368},{"s":5,"e":0.25,"i":367},{"s":5,"e":0.2,"i":365},{"s":5,"e":0.15,"i":362},{"s":5,"e":0.1,"i":357},{"s":5,"e":0.05,"i":353},{"s":5,"e":0,"i":350},{"s":5,"e":-0.05,"i":347},{"s":5,"e":-0.1,"i":346},{"s":5,"e":-0.15,"i":346},{"s":5,"e":-0.2,"i":346},{"s":5,"e":-0.3,"i":346},{"s":5,"e":-0.5,"i":346},{"s":5,"e":-0.7,"i":346},{"s":5,"e":-0.78,"i":346},
{"s":6,"e":11.7,"i":295},{"s":6,"e":11.5,"i":293},{"s":6,"e":11.3,"i":294},{"s":6,"e":11.1,"i":291},{"s":6,"e":10.9,"i":292},{"s":6,"e":10.7,"i":289},{"s":6,"e":10.5,"i":290},{"s":6,"e":10.3,"i":286},{"s":6,"e":10.1,"i":288},{"s":6,"e":9.9,"i":284},{"s":6,"e":9.7,"i":285},{"s":6,"e":9.5,"i":282},{"s":6,"e":9.3,"i":283},{"s":6,"e":9.1,"i":279},{"s":6,"e":8.9,"i":280},{"s":6,"e":8.7,"i":277},{"s":6,"e":8.5,"i":278},{"s":6,"e":8.3,"i":275},{"s":6,"e":8.1,"i":276},{"s":6,"e":7.9,"i":273},{"s":6,"e":7.7,"i":274},{"s":6,"e":7.5,"i":271},{"s":6,"e":7.3,"i":273},{"s":6,"e":7.1,"i":272},{"s":6,"e":6.9,"i":276},{"s":6,"e":6.7,"i":277},{"s":6,"e":6.5,"i":282},{"s":6,"e":6.3,"i":284},{"s":6,"e":6.1,"i":289},{"s":6,"e":5.9,"i":288},{"s":6,"e":5.7,"i":288},{"s":6,"e":5.5,"i":283},{"s":6,"e":5.3,"i":282},{"s":6,"e":5.1,"i":278},{"s":6,"e":4.9,"i":278},{"s":6,"e":4.7,"i":276},{"s":6,"e":4.5,"i":277},{"s":6,"e":4.3,"i":275},{"s":6,"e":4.1,"i":276},{"s":6,"e":3.9,"i":274},{"s":6,"e":3.7,"i":276},{"s":6,"e":3.5,"i":273},{"s":6,"e":3.3,"i":277},{"s":6,"e":3.1,"i":278},{"s":6,"e":2.9,"i":282},{"s":6,"e":2.7,"i":282},{"s":6,"e":2.5,"i":286},{"s":6,"e":2.3,"i":286},{"s":6,"e":2.1,"i":290},{"s":6,"e":1.9,"i":289},{"s":6,"e":1.8,"i":290},{"s":6,"e":1.7,"i":289},{"s":6,"e":1.6,"i":287},{"s":6,"e":1.5,"i":284},{"s":6,"e":1.4,"i":281},{"s":6,"e":1.3,"i":278},{"s":6,"e":1.2,"i":275},{"s":6,"e":1.1,"i":274},{"s":6,"e":1,"i":277},{"s":6,"e":0.9,"i":279},{"s":6,"e":0.8,"i":282},{"s":6,"e":0.7,"i":285},{"s":6,"e":0.6,"i":288},{"s":6,"e":0.5,"i":292},{"s":6,"e":0.45,"i":297},{"s":6,"e":0.4,"i":302},{"s":6,"e":0.35,"i":307},{"s":6,"e":0.3,"i":309},{"s":6,"e":0.25,"i":308},{"s":6,"e":0.2,"i":302},{"s":6,"e":0.15,"i":295},{"s":6,"e":0.1,"i":284},{"s":6,"e":0.05,"i":274},{"s":6,"e":0,"i":262},{"s":6,"e":-0.05,"i":252},{"s":6,"e":-0.1,"i":248},{"s":6,"e":-0.15,"i":247},{"s":6,"e":-0.2,"i":246},{"s":6,"e":-0.3,"i":246},{"s":6,"e":-0.5,"i":246},{"s":6,"e":-0.7,"i":246},{"s":6,"e":-0.78,"i":246},
{"s":7,"e":11.7,"i":180},{"s":7,"e":11.5,"i":176},{"s":7,"e":11.3,"i":176},{"s":7,"e":11.1,"i":172},{"s":7,"e":10.9,"i":172},{"s":7,"e":10.7,"i":168},{"s":7,"e":10.5,"i":168},{"s":7,"e":10.3,"i":164},{"s":7,"e":10.1,"i":164},{"s":7,"e":9.9,"i":161},{"s":7,"e":9.7,"i":162},{"s":7,"e":9.5,"i":159},{"s":7,"e":9.3,"i":159},{"s":7,"e":9.1,"i":155},{"s":7,"e":8.9,"i":155},{"s":7,"e":8.7,"i":153},{"s":7,"e":8.5,"i":155},{"s":7,"e":8.3,"i":152},{"s":7,"e":8.1,"i":153},{"s":7,"e":7.9,"i":151},{"s":7,"e":7.7,"i":153},{"s":7,"e":7.5,"i":151},{"s":7,"e":7.3,"i":154},{"s":7,"e":7.1,"i":153},{"s":7,"e":6.9,"i":157},{"s":7,"e":6.7,"i":157},{"s":7,"e":6.5,"i":163},{"s":7,"e":6.3,"i":168},{"s":7,"e":6.1,"i":180},{"s":7,"e":5.9,"i":190},{"s":7,"e":5.7,"i":199},{"s":7,"e":5.5,"i":201},{"s":7,"e":5.3,"i":208},{"s":7,"e":5.1,"i":208},{"s":7,"e":4.9,"i":203},{"s":7,"e":4.7,"i":198},{"s":7,"e":4.5,"i":194},{"s":7,"e":4.3,"i":188},{"s":7,"e":4.1,"i":184},{"s":7,"e":3.9,"i":174},{"s":7,"e":3.7,"i":174},{"s":7,"e":3.5,"i":173},{"s":7,"e":3.3,"i":185},{"s":7,"e":3.1,"i":191},{"s":7,"e":2.9,"i":200},{"s":7,"e":2.7,"i":203},{"s":7,"e":2.5,"i":207},{"s":7,"e":2.3,"i":203},{"s":7,"e":2.1,"i":203},{"s":7,"e":1.9,"i":208},{"s":7,"e":1.8,"i":207},{"s":7,"e":1.7,"i":202},{"s":7,"e":1.6,"i":197},{"s":7,"e":1.5,"i":194},{"s":7,"e":1.4,"i":189},{"s":7,"e":1.3,"i":182},{"s":7,"e":1.2,"i":175},{"s":7,"e":1.1,"i":173},{"s":7,"e":1,"i":179},{"s":7,"e":0.9,"i":187},{"s":7,"e":0.8,"i":194},{"s":7,"e":0.7,"i":200},{"s":7,"e":0.6,"i":205},{"s":7,"e":0.5,"i":215},{"s":7,"e":0.45,"i":225},{"s":7,"e":0.4,"i":234},{"s":7,"e":0.35,"i":243},{"s":7,"e":0.3,"i":248},{"s":7,"e":0.25,"i":247},{"s":7,"e":0.2,"i":235},{"s":7,"e":0.15,"i":217},{"s":7,"e":0.1,"i":177},{"s":7,"e":0.05,"i":142},{"s":7,"e":0,"i":117},{"s":7,"e":-0.05,"i":110},{"s":7,"e":-0.1,"i":109},{"s":7,"e":-0.15,"i":108},{"s":7,"e":-0.2,"i":108},{"s":7,"e":-0.3,"i":108},{"s":7,"e":-0.5,"i":108},{"s":7,"e":-0.7,"i":108},{"s":7,"e":-0.78,"i":108},
{"s":8,"e":11.7,"i":93},{"s":8,"e":11.5,"i":88},{"s":8,"e":11.3,"i":86},{"s":8,"e":11.1,"i":81},{"s":8,"e":10.9,"i":81},{"s":8,"e":10.7,"i":77},{"s":8,"e":10.5,"i":78},{"s":8,"e":10.3,"i":75},{"s":8,"e":10.1,"i":76},{"s":8,"e":9.9,"i":72},{"s":8,"e":9.7,"i":71},{"s":8,"e":9.5,"i":66},{"s":8,"e":9.3,"i":66},{"s":8,"e":9.1,"i":62},{"s":8,"e":8.9,"i":63},{"s":8,"e":8.7,"i":60},{"s":8,"e":8.5,"i":62},{"s":8,"e":8.3,"i":59},{"s":8,"e":8.1,"i":60},{"s":8,"e":7.9,"i":58},{"s":8,"e":7.7,"i":60},{"s":8,"e":7.5,"i":59},{"s":8,"e":7.3,"i":62},{"s":8,"e":7.1,"i":61},{"s":8,"e":6.9,"i":65},{"s":8,"e":6.7,"i":67},{"s":8,"e":6.5,"i":73},{"s":8,"e":6.3,"i":79},{"s":8,"e":6.1,"i":92},{"s":8,"e":5.9,"i":102},{"s":8,"e":5.7,"i":116},{"s":8,"e":5.5,"i":120},{"s":8,"e":5.3,"i":126},{"s":8,"e":5.1,"i":124},{"s":8,"e":4.9,"i":122},{"s":8,"e":4.7,"i":112},{"s":8,"e":4.5,"i":105},{"s":8,"e":4.3,"i":97},{"s":8,"e":4.1,"i":93},{"s":8,"e":3.9,"i":84},{"s":8,"e":3.7,"i":82},{"s":8,"e":3.5,"i":81},{"s":8,"e":3.3,"i":92},{"s":8,"e":3.1,"i":100},{"s":8,"e":2.9,"i":110},{"s":8,"e":2.7,"i":116},{"s":8,"e":2.5,"i":121},{"s":8,"e":2.3,"i":118},{"s":8,"e":2.1,"i":116},{"s":8,"e":1.9,"i":126},{"s":8,"e":1.8,"i":126},{"s":8,"e":1.7,"i":124},{"s":8,"e":1.6,"i":119},{"s":8,"e":1.5,"i":115},{"s":8,"e":1.4,"i":109},{"s":8,"e":1.3,"i":99},{"s":8,"e":1.2,"i":89},{"s":8,"e":1.1,"i":82},{"s":8,"e":1,"i":79},{"s":8,"e":0.9,"i":83},{"s":8,"e":0.8,"i":85},{"s":8,"e":0.7,"i":83},{"s":8,"e":0.6,"i":87},{"s":8,"e":0.5,"i":107},{"s":8,"e":0.45,"i":127},{"s":8,"e":0.4,"i":142},{"s":8,"e":0.35,"i":162},{"s":8,"e":0.3,"i":174},{"s":8,"e":0.25,"i":175},{"s":8,"e":0.2,"i":167},{"s":8,"e":0.15,"i":142},{"s":8,"e":0.1,"i":107},{"s":8,"e":0.05,"i":72},{"s":8,"e":0,"i":37},{"s":8,"e":-0.05,"i":19},{"s":8,"e":-0.1,"i":12},{"s":8,"e":-0.15,"i":10},{"s":8,"e":-0.2,"i":9},{"s":8,"e":-0.3,"i":8},{"s":8,"e":-0.5,"i":8},{"s":8,"e":-0.7,"i":8},{"s":8,"e":-0.78,"i":8}
]},
"hconcat":[
{"width":564,"height":858,
"encoding":{
"x":{"field":"e","type":"quantitative","scale":{"domain":[28.84,35.445],"reverse":true,"nice":false,"zero":false},
"axis":{"title":"Binding Energy (eV)","titleFontSize":26,"titlePadding":6,"domain":false,
"values":[28.9,29,29.1,29.2,29.3,29.4,29.5,29.6,29.7,29.8,29.9,30,30.1,30.2,30.3,30.4,30.5,30.6,30.7,30.8,30.9,31,31.1,31.2,31.3,31.4,31.5,31.6,31.7,31.8,31.9,32,32.1,32.2,32.3,32.4,32.5,32.6,32.7,32.8,32.9,33,33.1,33.2,33.3,33.4,33.5,33.6,33.7,33.8,33.9,34,34.1,34.2,34.3,34.4,34.5,34.6,34.7,34.8,34.9,35,35.1,35.2,35.3,35.4],
"labelExpr":"abs(datum.value - round(datum.value)) < 0.01 ? format(round(datum.value), 'd') : ''",
"labelFontSize":23,"labelPadding":4,"labelOverlap":false,"labelFlush":false,
"tickSize":{"condition":[{"test":"abs(datum.value - round(datum.value)) < 0.01","value":11},{"test":"abs(datum.value*2 - round(datum.value*2)) < 0.01","value":9}],"value":7},
"grid":true,"gridColor":"black","gridDash":[2,2],"gridWidth":1,
"gridOpacity":{"condition":{"test":"abs(datum.value - round(datum.value)) < 0.01","value":1},"value":0}}},
"y":{"field":"i","type":"quantitative","scale":{"domain":[0,858],"nice":false,"zero":false},
"axis":{"title":"Intensity (a.u.)","titleFontSize":25,"labels":false,"ticks":false,"domain":false,"grid":false,"titlePadding":10}}},
"layer":[
{"data":{"name":"naLab"},"mark":{"type":"text","align":"left","baseline":"middle","fontSize":21,"color":"white","stroke":"white","strokeWidth":6},"encoding":{"text":{"field":"t"}}},
{"data":{"values":[{"e":35.23,"i":822,"t":"Cl₂/Na/1T-TaSe₂"}]},"mark":{"type":"text","align":"left","baseline":"alphabetic","fontSize":25,"fontWeight":"bold","color":"white","stroke":"white","strokeWidth":6},"encoding":{"text":{"field":"t"}}},
{"data":{"values":[{"e":29.14,"i":787,"t":"Na 2p"}]},"mark":{"type":"text","align":"right","baseline":"alphabetic","fontSize":35,"fontWeight":"bold","color":"white","stroke":"white","strokeWidth":6},"encoding":{"text":{"field":"t"}}},
{"data":{"name":"na"},"mark":{"type":"line","color":"black","strokeWidth":1},"encoding":{"detail":{"field":"s"}}},
{"data":{"name":"naLab"},"mark":{"type":"text","align":"left","baseline":"middle","fontSize":21,"color":"black"},"encoding":{"text":{"field":"t"}}},
{"data":{"values":[{"e":35.23,"i":822,"t":"Cl₂/Na/1T-TaSe₂"}]},"mark":{"type":"text","align":"left","baseline":"alphabetic","fontSize":25,"fontWeight":"bold","color":"black"},"encoding":{"text":{"field":"t"}}},
{"data":{"values":[{"e":29.14,"i":787,"t":"Na 2p"}]},"mark":{"type":"text","align":"right","baseline":"alphabetic","fontSize":35,"fontWeight":"bold","color":"black"},"encoding":{"text":{"field":"t"}}}
]},
{"width":558,"height":858,"view":{"stroke":null},
"encoding":{
"x":{"field":"e","type":"quantitative","scale":{"domain":[-0.79,11.71],"reverse":true,"nice":false,"zero":false},
"axis":{"title":"binding energy (eV)","titleFontSize":26,"titlePadding":6,"domain":true,"domainWidth":2,
"values":[-0.6,-0.4,-0.2,0,0.2,0.4,0.6,0.8,1,1.2,1.4,1.6,1.8,2,2.2,2.4,2.6,2.8,3,3.2,3.4,3.6,3.8,4,4.2,4.4,4.6,4.8,5,5.2,5.4,5.6,5.8,6,6.2,6.4,6.6,6.8,7,7.2,7.4,7.6,7.8,8,8.2,8.4,8.6,8.8,9,9.2,9.4,9.6,9.8,10,10.2,10.4,10.6,10.8,11,11.2,11.4,11.6],
"labelExpr":"abs(datum.value/2 - round(datum.value/2)) < 0.01 ? format(round(datum.value), 'd') : ''",
"labelFontSize":23,"labelPadding":4,"labelOverlap":false,"labelFlush":false,
"tickSize":{"condition":[{"test":"abs(datum.value/2 - round(datum.value/2)) < 0.01","value":11},{"test":"abs(datum.value - round(datum.value)) < 0.01","value":9}],"value":7},
"grid":true,"gridColor":"black","gridDash":[2,2],"gridWidth":1,
"gridOpacity":{"condition":{"test":"abs(datum.value/2 - round(datum.value/2)) < 0.01","value":1},"value":0}}},
"y":{"field":"i","type":"quantitative","scale":{"domain":[0,858],"nice":false,"zero":false},
"axis":{"title":"Intensity (a.u.)","titleFontSize":25,"labels":false,"ticks":false,"domain":true,"domainWidth":2,"grid":false,"titlePadding":10}}},
"layer":[
{"data":{"name":"vbLab"},"mark":{"type":"text","align":"left","baseline":"middle","fontSize":21,"color":"white","stroke":"white","strokeWidth":6},"encoding":{"text":{"field":"t"}}},
{"data":{"values":[{"e":-0.53,"i":814,"t":"valence band, 21 eV"}]},"mark":{"type":"text","align":"right","baseline":"alphabetic","fontSize":35,"fontWeight":"bold","color":"white","stroke":"white","strokeWidth":6},"encoding":{"text":{"field":"t"}}},
{"data":{"values":[{"e":4.71,"i":342,"t":"Cl₂ molecular peaks"}]},"mark":{"type":"text","align":"center","baseline":"middle","fontSize":21,"color":"white","stroke":"white","strokeWidth":6},"encoding":{"text":{"field":"t"}}},
{"data":{"values":[{"e":11.71,"e2":-0.79,"i":858}]},"mark":{"type":"rule","color":"black","strokeWidth":2},"encoding":{"x2":{"field":"e2"}}},
{"data":{"name":"vb"},"mark":{"type":"line","color":"black","strokeWidth":1},"encoding":{"detail":{"field":"s"}}},
{"data":{"values":[{"e":6.12,"i":392,"i2":354},{"e":3.38,"i":394,"i2":355}]},"mark":{"type":"rule","color":"black","strokeWidth":1},"encoding":{"y2":{"field":"i2"}}},
{"data":{"name":"vbLab"},"mark":{"type":"text","align":"left","baseline":"middle","fontSize":21,"color":"black"},"encoding":{"text":{"field":"t"}}},
{"data":{"values":[{"e":-0.53,"i":814,"t":"valence band, 21 eV"}]},"mark":{"type":"text","align":"right","baseline":"alphabetic","fontSize":35,"fontWeight":"bold","color":"black"},"encoding":{"text":{"field":"t"}}},
{"data":{"values":[{"e":4.71,"i":342,"t":"Cl₂ molecular peaks"}]},"mark":{"type":"text","align":"center","baseline":"middle","fontSize":21,"color":"black"},"encoding":{"text":{"field":"t"}}}
]}
]}
